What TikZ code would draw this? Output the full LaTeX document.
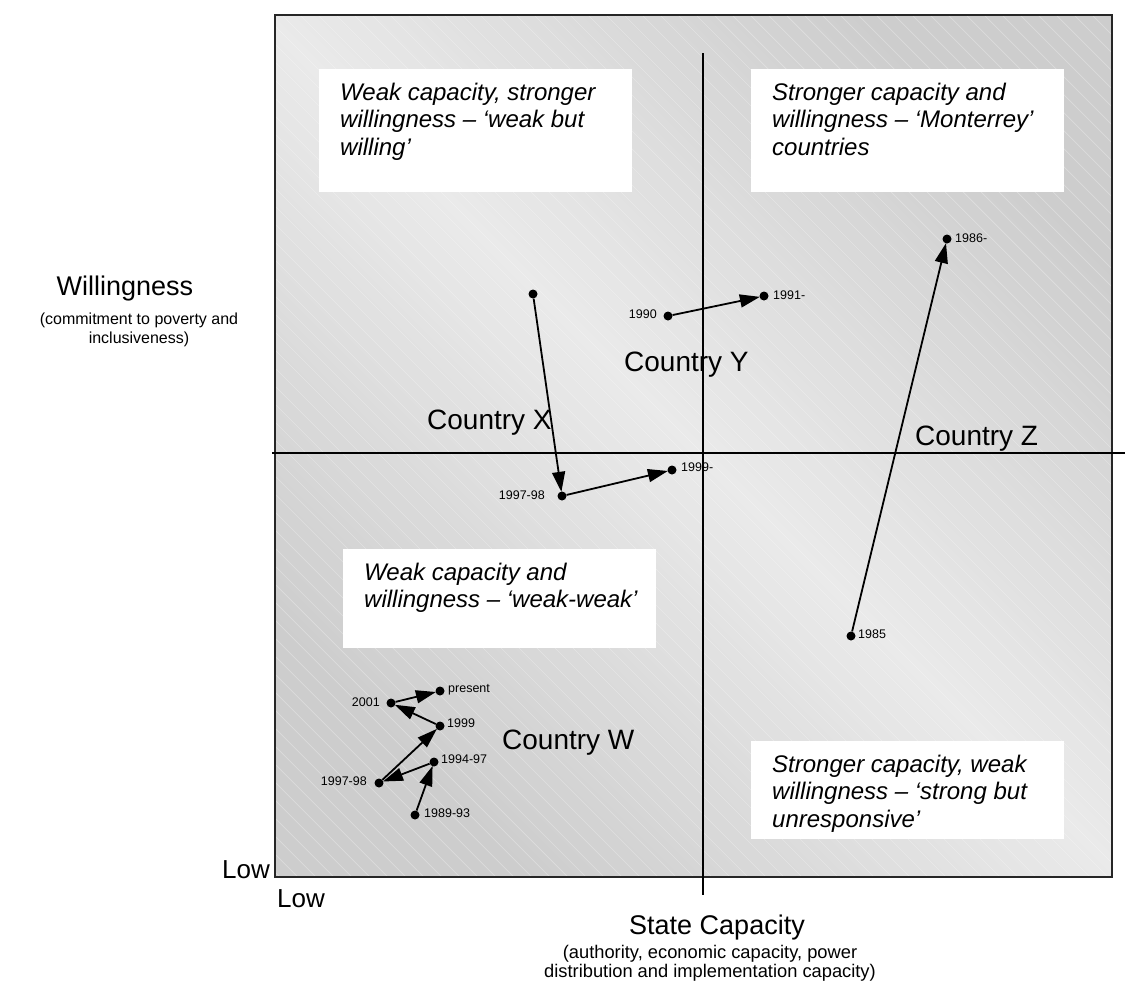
\documentclass[tikz,border=0pt]{standalone}
\usepackage{fontspec}
\setmainfont{Liberation Sans}
\usetikzlibrary{arrows.meta}
\definecolor{bgdark}{HTML}{CDCDCD}
\definecolor{bglight}{HTML}{EAEAEA}
\begin{document}
\begin{tikzpicture}[x=1pt,y=-1pt,
  dot/.style={circle,fill=black,inner sep=0pt,minimum size=9pt},
  arr/.style={-{Triangle[length=20pt,width=13pt]},line width=1.8pt,shorten >=-0.5pt},
  yrw/.style={font=\fontsize{12.5}{14}\selectfont,inner sep=0pt,anchor=base west},
  yre/.style={font=\fontsize{12.5}{14}\selectfont,inner sep=0pt,anchor=base east},
  ctry/.style={font=\fontsize{28}{32}\selectfont,inner sep=0pt,anchor=base west},
  qbox/.style={fill=white,draw=none,inner sep=0pt,anchor=north west,minimum width=313pt},
  qtext/.style={inner sep=0pt,anchor=base west,font=\fontsize{24}{27.5}\selectfont\itshape},
  axtitle/.style={inner sep=0pt,anchor=base,font=\fontsize{27}{30}\selectfont},
  axline/.style={line width=1.5pt},
  hatch/.style={white,opacity=0.3,line width=0.7pt}]

\useasboundingbox (0,0) rectangle (1125,983);

% background of the plot area
\shade[top color=bgdark,bottom color=bgdark,middle color=bglight,shading angle=-45]
  (275,15) rectangle (1112,877);
\begin{scope}
  \clip (275,15) rectangle (1112,877);
  \foreach \i in {-600,-582,...,1120} \draw[hatch] (\i,15) -- ++(880,880);
\end{scope}
\draw[line width=2pt,draw=black!85] (275,15) rectangle (1112,877);

% quadrant boxes
\node[qbox,minimum height=123pt] (tlbox) at (319,69) {};
\node[qbox,minimum height=123pt] (trbox) at (751,69) {};
\node[qbox,minimum height=99pt] (blbox) at (343,549) {};
\node[qbox,minimum height=98pt] (brbox) at (751,741) {};

\node[qtext] (tltext) at (340,100) {\parbox[t]{300pt}{Weak capacity, stronger\\willingness – ‘weak but\\willing’}};
\node[qtext] (trtext) at (772,100) {\parbox[t]{300pt}{Stronger capacity and\\willingness – ‘Monterrey’\\countries}};
\node[qtext] (bltext) at (364,580) {\parbox[t]{300pt}{Weak capacity and\\willingness – ‘weak-weak’}};
\begin{scope}
  \clip (751,741) rectangle (1064,831);
  \node[qtext] (brtext) at (772,772) {\parbox[t]{300pt}{Stronger capacity, weak\\willingness – ‘strong but\\unresponsive’}};
\end{scope}

% country labels
\node[ctry] (cx) at (427,429) {Country X};
\node[ctry] (cy) at (624,371) {Country Y};
\node[ctry] (cz) at (915,445) {Country Z};
\node[ctry] (cw) at (502,749) {Country W};

% Country X
\node[dot] (x0) at (533,294) {};
\node[dot] (x1) at (562,496) {};
\node[dot] (x2) at (672,470) {};
\node[yre] (x1l) at (545,499) {1997-98};
\node[yrw] (x2l) at (681,471) {1999-};
\draw[arr] (x0) -- (x1);
\draw[arr] (x1) -- (x2);

% Country Y
\node[dot] (y0) at (668,316) {};
\node[dot] (y1) at (764,296) {};
\node[yre] (y0l) at (657,318) {1990};
\node[yrw] (y1l) at (773,299) {1991-};
\draw[arr] (y0) -- (y1);

% Country Z
\node[dot] (z0) at (851,636) {};
\node[dot] (z1) at (947,239) {};
\node[yrw] (z0l) at (858,638) {1985};
\node[yrw] (z1l) at (955,242) {1986-};
\draw[arr] (z0) -- (z1);

% Country W
\node[dot] (w1) at (415,815) {};
\node[dot] (w2) at (434,762) {};
\node[dot] (w3) at (379,783) {};
\node[dot] (w4) at (440,726) {};
\node[dot] (w5) at (391,703) {};
\node[dot] (w6) at (440,691) {};
\node[yrw] (w1l) at (424,817) {1989-93};
\node[yrw] (w2l) at (441,763) {1994-97};
\node[yre] (w3l) at (367,785) {1997-98};
\node[yrw] (w4l) at (447,727) {1999};
\node[yre] (w5l) at (380,706) {2001};
\node[yrw] (w6l) at (448,692) {present};
\draw[arr] (w1) -- (w2);
\draw[arr] (w2) -- (w3);
\draw[arr] (w3) -- (w4);
\draw[arr] (w4) -- (w5);
\draw[arr] (w5) -- (w6);

% axes
\coordinate (vtop) at (703,53);
\coordinate (vbot) at (703,895);
\coordinate (hleft) at (272,453);
\coordinate (hright) at (1125,453);
\draw[axline] (vtop) -- (vbot);
\draw[axline] (hleft) -- (hright);

% axis titles
\node[axtitle] (wtitle) at (125,295) {Willingness};
\node[inner sep=0pt,anchor=base,font=\fontsize{16}{19}\selectfont] (wsub) at (139,324)
  {\parbox[t]{260pt}{\centering (commitment to poverty and\\inclusiveness)}};
\node[axtitle] (stitle) at (717,934) {State Capacity};
\node[inner sep=0pt,anchor=base,font=\fontsize{18.3}{19.5}\selectfont] (ssub) at (710,958)
  {\parbox[t]{420pt}{\centering (authority, economic capacity, power\\distribution and implementation capacity)}};
\node[inner sep=0pt,anchor=base east,font=\fontsize{26}{30}\selectfont] (lowy) at (270,878) {Low};
\node[inner sep=0pt,anchor=base west,font=\fontsize{26}{30}\selectfont] (lowx) at (277,907) {Low};
\end{tikzpicture}
\end{document}
